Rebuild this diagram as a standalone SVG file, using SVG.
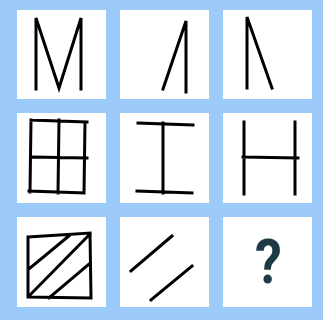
<svg xmlns="http://www.w3.org/2000/svg" width="323" height="320" viewBox="0 0 323 320">
<style>
.cell{fill:#ffffff}
.s{fill:none;stroke:#000000;stroke-width:3;stroke-linecap:square;stroke-linejoin:miter}
.q{font-family:Roboto,"Liberation Sans",sans-serif;font-weight:bold;font-size:54px;fill:#1e3a44}
</style>
<rect x="0" y="0" width="323" height="320" fill="#9ccbfa"/>
<g id="cells">
<rect class="cell" x="17" y="10" width="89" height="89"/>
<rect class="cell" x="120" y="10" width="89" height="89"/>
<rect class="cell" x="223" y="10" width="89" height="89"/>
<rect class="cell" x="17" y="113" width="89" height="90"/>
<rect class="cell" x="120" y="113" width="89" height="90"/>
<rect class="cell" x="223" y="113" width="89" height="90"/>
<rect class="cell" x="17" y="217" width="89" height="90"/>
<rect class="cell" x="120" y="217" width="89" height="90"/>
<rect class="cell" x="223" y="217" width="89" height="90"/>
</g>
<g id="r1c1"><path class="s" stroke-width="2.6" d="M36 89 L36 18 L59 88 L81 18 L81 89"/></g>
<g id="r1c2"><path class="s" d="M163 89 L186 21 L186 92"/></g>
<g id="r1c3"><path class="s" d="M247 88 L247 17 L272 88"/></g>
<g id="r2c1"><path class="s" d="M31 120 L87 122 M31 120 L30 192 M59 120 L58 193 M85 122 L84 193 M32 157 L87 158 M29 191 L84 193"/></g>
<g id="r2c2"><path class="s" d="M138 123 L193 125 M163 123 L163 193 M137 191 L192 193"/></g>
<g id="r2c3"><path class="s" d="M244 122 L244 194 M295 122 L295 194 M243 157 L298 158"/></g>
<g id="r3c1"><path class="s" d="M28 237 L90 233 L91 298 L28 297 Z M29 269 L70 235 M29 296 L90 234 M49 298 L89 264"/></g>
<g id="r3c2"><path class="s" d="M131 271 L172 236 M151 300 L192 266"/></g>
<g id="r3c3"><text class="q" x="268.5" y="283" text-anchor="middle" transform="translate(0 -35.4) scale(1 1.125)">?</text></g>
</svg>
